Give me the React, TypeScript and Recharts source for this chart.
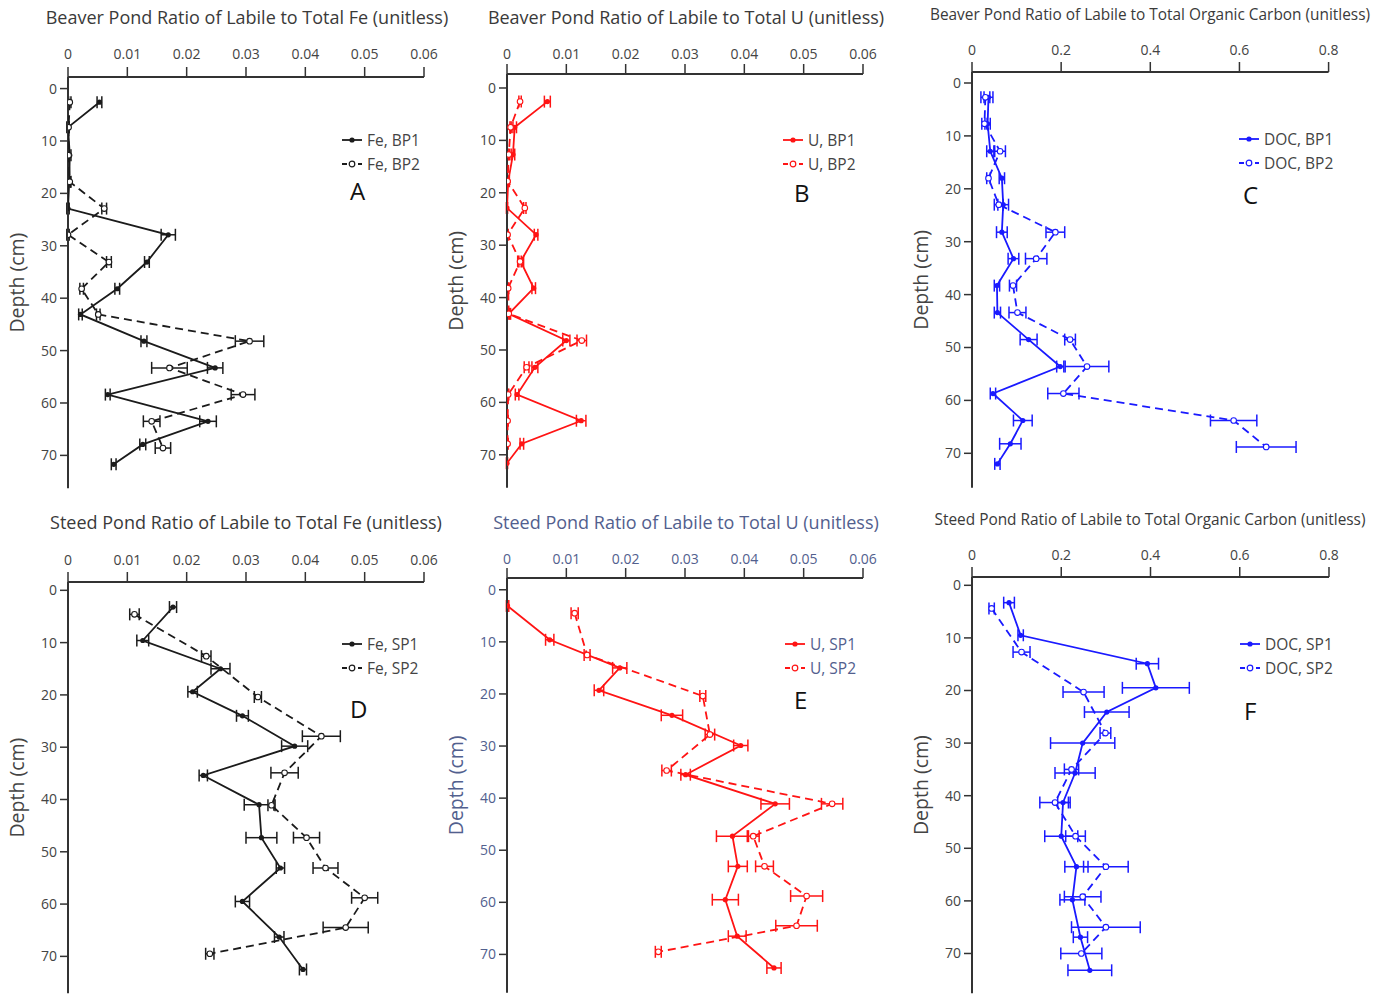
import React from "react";
import { ScatterChart, Scatter, XAxis, YAxis, ErrorBar, Label } from "recharts";

const FONT = '"Open Sans", "Noto Sans", sans-serif';

// ---- depth ticks / value ticks
const DEPTH_TICKS = [0, 10, 20, 30, 40, 50, 60, 70];
const RATIO_TICKS = [0, 0.01, 0.02, 0.03, 0.04, 0.05, 0.06];
const DOC_TICKS = [0, 0.2, 0.4, 0.6, 0.8];

// ---- A: Beaver Pond Fe
const feBP1Depth = [2.6, 7.4, 12.7, 17.8, 22.9, 27.9, 33.1, 38.2, 43.1, 48.2, 53.3, 58.4, 63.5, 67.9, 71.7];
const feBP1 = [0.0053, 0.0, 0.0003, 0.0002, 0.0, 0.0169, 0.0133, 0.0083, 0.0021, 0.0128, 0.0248, 0.0067, 0.0236, 0.0126, 0.0077];
const feBP1Err = [0.0004, 0.0002, 0.0002, 0.0002, 0.0002, 0.0012, 0.0004, 0.0004, 0.0003, 0.0005, 0.0013, 0.0004, 0.0014, 0.0005, 0.0004];
const feBP2Depth = [2.6, 7.4, 12.7, 17.8, 22.9, 27.9, 33.1, 38.2, 43.1, 48.2, 53.3, 58.4, 63.5, 68.6];
const feBP2 = [0.0003, 0.0001, 0.0001, 0.0003, 0.0061, 0.0, 0.0069, 0.0023, 0.0051, 0.0306, 0.0171, 0.0295, 0.0141, 0.016];
const feBP2Err = [0.0002, 0.0001, 0.0001, 0.0002, 0.0004, 0.0002, 0.0004, 0.0003, 0.0003, 0.0024, 0.003, 0.002, 0.0014, 0.0013];

// ---- B: Beaver Pond U
const uBP1Depth = [2.6, 7.5, 12.7, 17.8, 22.9, 28.0, 33.1, 38.2, 43.1, 48.2, 53.3, 58.5, 63.5, 67.9, 71.6];
const uBP1 = [0.0068, 0.0013, 0.001, 0.0002, 0.0, 0.0049, 0.0023, 0.0045, 0.0003, 0.01, 0.0047, 0.0017, 0.0125, 0.0025, 0.0];
const uBP1Err = [0.0005, 0.0003, 0.0003, 0.0002, 0.0001, 0.0003, 0.0005, 0.0003, 0.0003, 0.0006, 0.0005, 0.0003, 0.0008, 0.0003, 0.0001];
const uBP2Depth = [2.6, 7.5, 12.7, 17.8, 22.9, 28.0, 33.1, 38.2, 43.1, 48.2, 53.3, 58.5, 63.5, 67.9];
const uBP2 = [0.0022, 0.0006, 0.0003, 0.0001, 0.003, 0.0001, 0.0022, 0.0002, 0.0003, 0.0126, 0.0033, 0.0002, 0.0001, 0.0001];
const uBP2Err = [0.0002, 0.0001, 0.0001, 0.0001, 0.0002, 0.0001, 0.0002, 0.0001, 0.0001, 0.0008, 0.0004, 0.0001, 0.0001, 0.0001];

// ---- C: Beaver Pond DOC
const docBP1Depth = [2.7, 7.7, 12.9, 18.0, 23.0, 28.2, 33.2, 38.3, 43.4, 48.5, 53.6, 58.7, 63.8, 68.2, 72.0];
const docBP1 = [0.037, 0.035, 0.041, 0.067, 0.07, 0.067, 0.093, 0.056, 0.057, 0.127, 0.198, 0.047, 0.114, 0.086, 0.057];
const docBP1Err = [0.01, 0.006, 0.008, 0.006, 0.012, 0.012, 0.012, 0.006, 0.007, 0.019, 0.008, 0.006, 0.021, 0.024, 0.006];
const docBP2Depth = [2.7, 7.7, 12.9, 18.0, 23.0, 28.2, 33.2, 38.3, 43.4, 48.5, 53.6, 58.7, 63.8, 68.8];
const docBP2 = [0.03, 0.028, 0.063, 0.037, 0.06, 0.187, 0.144, 0.092, 0.102, 0.22, 0.258, 0.205, 0.587, 0.66];
const docBP2Err = [0.01, 0.006, 0.012, 0.004, 0.01, 0.021, 0.024, 0.008, 0.019, 0.012, 0.049, 0.035, 0.052, 0.067];

// ---- D: Steed Pond Fe
const feSP1Depth = [3.2, 9.6, 15.0, 19.4, 24.0, 29.8, 35.4, 41.0, 47.3, 53.1, 59.5, 66.3, 72.5];
const feSP1 = [0.0177, 0.0126, 0.0257, 0.021, 0.0294, 0.0382, 0.0228, 0.0322, 0.0326, 0.0358, 0.0294, 0.0356, 0.0396];
const feSP1Err = [0.0006, 0.001, 0.0016, 0.0008, 0.001, 0.0022, 0.0007, 0.0025, 0.0026, 0.0007, 0.0012, 0.0008, 0.0006];
const feSP2Depth = [4.6, 12.6, 20.4, 27.9, 34.9, 41.1, 47.3, 53.1, 58.8, 64.5, 69.5];
const feSP2 = [0.0112, 0.0233, 0.032, 0.0427, 0.0365, 0.0343, 0.0402, 0.0434, 0.05, 0.0468, 0.0239];
const feSP2Err = [0.0008, 0.0008, 0.0006, 0.0032, 0.0023, 0.0006, 0.0022, 0.0021, 0.0022, 0.0038, 0.0007];

// ---- E: Steed Pond U
const uSP1Depth = [3.1, 9.6, 15.0, 19.3, 24.1, 29.9, 35.5, 41.1, 47.3, 53.1, 59.5, 66.5, 72.6];
const uSP1 = [0.0001, 0.0072, 0.019, 0.0155, 0.0278, 0.0394, 0.0301, 0.0452, 0.038, 0.0389, 0.0368, 0.0388, 0.045];
const uSP1Err = [0.0002, 0.0007, 0.0012, 0.0008, 0.0018, 0.0012, 0.0008, 0.0024, 0.0027, 0.0016, 0.0022, 0.0015, 0.0012];
const uSP2Depth = [4.5, 12.5, 20.4, 27.8, 34.7, 41.1, 47.3, 53.1, 58.8, 64.5, 69.5];
const uSP2 = [0.0114, 0.0135, 0.033, 0.0342, 0.0269, 0.0548, 0.0415, 0.0434, 0.0505, 0.0488, 0.0255];
const uSP2Err = [0.0006, 0.0005, 0.0005, 0.0008, 0.0008, 0.0018, 0.001, 0.0015, 0.0027, 0.0035, 0.0005];

// ---- F: Steed Pond DOC
const docSP1Depth = [3.3, 9.5, 14.9, 19.5, 24.1, 30.0, 35.7, 41.3, 47.7, 53.5, 59.8, 66.9, 73.2];
const docSP1 = [0.083, 0.109, 0.393, 0.412, 0.302, 0.248, 0.231, 0.204, 0.2, 0.234, 0.225, 0.243, 0.264];
const docSP1Err = [0.012, 0.006, 0.025, 0.075, 0.05, 0.072, 0.045, 0.012, 0.037, 0.026, 0.028, 0.016, 0.049];
const docSP2Depth = [4.4, 12.7, 20.3, 28.1, 35.0, 41.3, 47.7, 53.5, 59.2, 65.0, 70.0];
const docSP2 = [0.044, 0.111, 0.25, 0.299, 0.223, 0.186, 0.232, 0.3, 0.248, 0.3, 0.245];
const docSP2Err = [0.006, 0.019, 0.046, 0.012, 0.016, 0.034, 0.022, 0.05, 0.041, 0.077, 0.046];

const rows = (depth: number[], value: number[], err: number[]) =>
  depth.map((d, i) => ({ depth: d, value: value[i], err: err[i] }));

const BLACK = "#1b1b1b";
const RED = "#ff1414";
const BLUE = "#1a1aff";
const GREY_TEXT = "#444";
const SLATE_TEXT = "#52608e";

interface PanelCfg {
  // plot area in page pixels
  x: number;
  y: number;
  w: number;
  h: number;
  yDomain: [number, number];
  xMax: number;
  xTicks: number[];
  tickGap: number;
  color: string;
  textColor: string;
  title: string;
  titleX: number;
  titleY: number;
  titleSize: number;
  names: [string, string];
  legendX: number;
  legendY: number;
  letter: string;
  letterX: number;
  letterY: number;
  s1: { depth: number; value: number; err: number }[];
  s2: { depth: number; value: number; err: number }[];
}

const ML = 70; // space left of plot inside the chart svg
const MT = 40; // space above plot

function LegendSample({ color, open }: { color: string; open: boolean }) {
  return (
    <svg width={22} height={10} style={{ marginRight: 4 }}>
      <line
        x1={1}
        y1={5}
        x2={21}
        y2={5}
        stroke={color}
        strokeWidth={1.8}
        strokeDasharray={open ? "5 3" : undefined}
      />
      {open ? (
        <circle cx={11} cy={5} r={2.8} fill="#fff" stroke={color} strokeWidth={1.2} />
      ) : (
        <circle cx={11} cy={5} r={2.6} fill={color} />
      )}
    </svg>
  );
}

function Panel({ cfg }: { cfg: PanelCfg }) {
  const c = cfg.color;
  const filled = (p: any) => <circle cx={p.cx} cy={p.cy} r={2.6} fill={c} />;
  const open = (p: any) => (
    <circle cx={p.cx} cy={p.cy} r={2.8} fill="#fff" stroke={c} strokeWidth={1.1} />
  );
  const axisLine = { stroke: "#333", strokeWidth: 2 };
  const tickLine = { stroke: "#333", strokeWidth: 1.5 };
  const tick = { fill: cfg.textColor, fontSize: 14, fontFamily: FONT };

  return (
    <>
      <div
        style={{
          position: "absolute",
          left: cfg.titleX,
          top: cfg.titleY - cfg.titleSize * 0.7,
          transform: "translateX(-50%)",
          whiteSpace: "nowrap",
          fontFamily: FONT,
          fontSize: cfg.titleSize,
          color: cfg.textColor === GREY_TEXT ? "#3a3a3a" : cfg.textColor,
        }}
      >
        {cfg.title}
      </div>
      <div style={{ position: "absolute", left: cfg.x - ML, top: cfg.y - MT }}>
        <ScatterChart
          width={cfg.w + ML + 15}
          height={cfg.h + MT + 2}
          margin={{ top: 10, right: 15, bottom: 2, left: 10 }}
        >
          <XAxis
            type="number"
            dataKey="value"
            orientation="top"
            height={30}
            domain={[0, cfg.xMax]}
            ticks={cfg.xTicks}
            interval={0}
            allowDataOverflow
            tickSize={10}
            tickMargin={cfg.tickGap}
            axisLine={axisLine}
            tickLine={tickLine}
            tick={tick}
            tickFormatter={(v: number) => String(v)}
          />
          <YAxis
            type="number"
            dataKey="depth"
            width={60}
            reversed
            domain={cfg.yDomain}
            ticks={DEPTH_TICKS}
            interval={0}
            allowDataOverflow
            tickSize={8}
            tickMargin={3}
            axisLine={axisLine}
            tickLine={tickLine}
            tick={tick}
          >
            <Label
              value="Depth (cm)"
              angle={-90}
              position="insideLeft"
              offset={9}
              style={{ textAnchor: "middle", fontSize: 19.5, fill: cfg.textColor, fontFamily: FONT }}
            />
          </YAxis>
          <Scatter
            name={cfg.names[0]}
            data={cfg.s1}
            fill={c}
            line={{ stroke: c, strokeWidth: 1.8 }}
            shape={filled}
            isAnimationActive={false}
          >
            <ErrorBar dataKey="err" direction="x" width={6} stroke={c} strokeWidth={1.5} />
          </Scatter>
          <Scatter
            name={cfg.names[1]}
            data={cfg.s2}
            fill={c}
            line={{ stroke: c, strokeWidth: 1.8, strokeDasharray: "8 5" }}
            shape={open}
            isAnimationActive={false}
          >
            <ErrorBar dataKey="err" direction="x" width={6} stroke={c} strokeWidth={1.5} />
          </Scatter>
        </ScatterChart>
      </div>
      <div
        style={{
          position: "absolute",
          left: cfg.legendX,
          top: cfg.legendY - 11,
          fontFamily: FONT,
          fontSize: 15.5,
          color: cfg.textColor,
          lineHeight: "24px",
        }}
      >
        {cfg.names.map((n, i) => (
          <div key={n} style={{ display: "flex", alignItems: "center", whiteSpace: "nowrap" }}>
            <LegendSample color={c} open={i === 1} />
            {n}
          </div>
        ))}
      </div>
      <div
        style={{
          position: "absolute",
          left: cfg.letterX,
          top: cfg.letterY - 17,
          fontFamily: FONT,
          fontSize: 24,
          color: "#111",
        }}
      >
        {cfg.letter}
      </div>
    </>
  );
}

const panels: PanelCfg[] = [
  {
    x: 68.3, y: 76.7, w: 356, h: 411.3, yDomain: [-2.21, 76.28], xMax: 0.06, xTicks: RATIO_TICKS, tickGap: 8,
    color: BLACK, textColor: GREY_TEXT,
    title: "Beaver Pond Ratio of Labile to Total Fe (unitless)", titleX: 247, titleY: 18, titleSize: 18,
    names: ["Fe, BP1", "Fe, BP2"], legendX: 341, legendY: 139, letter: "A", letterX: 350, letterY: 191,
    s1: rows(feBP1Depth, feBP1, feBP1Err), s2: rows(feBP2Depth, feBP2, feBP2Err),
  },
  {
    x: 507.3, y: 74.3, w: 356, h: 413.7, yDomain: [-2.67, 76.28], xMax: 0.06, xTicks: RATIO_TICKS, tickGap: 5,
    color: RED, textColor: GREY_TEXT,
    title: "Beaver Pond Ratio of Labile to Total U (unitless)", titleX: 686, titleY: 18, titleSize: 18,
    names: ["U, BP1", "U, BP2"], legendX: 782, legendY: 139, letter: "B", letterX: 794, letterY: 193,
    s1: rows(uBP1Depth, uBP1, uBP1Err), s2: rows(uBP2Depth, uBP2, uBP2Err),
  },
  {
    x: 971.7, y: 72.3, w: 356.6, h: 415.7, yDomain: [-2.08, 76.5], xMax: 0.8, xTicks: DOC_TICKS, tickGap: 7,
    color: BLUE, textColor: GREY_TEXT,
    title: "Beaver Pond Ratio of Labile to Total Organic Carbon (unitless)", titleX: 1150, titleY: 15, titleSize: 15.4,
    names: ["DOC, BP1", "DOC, BP2"], legendX: 1238, legendY: 138, letter: "C", letterX: 1243, letterY: 195,
    s1: rows(docBP1Depth, docBP1, docBP1Err), s2: rows(docBP2Depth, docBP2, docBP2Err),
  },
  {
    x: 68.3, y: 581.7, w: 356, h: 411.3, yDomain: [-1.59, 77.06], xMax: 0.06, xTicks: RATIO_TICKS, tickGap: 7,
    color: BLACK, textColor: GREY_TEXT,
    title: "Steed Pond Ratio of Labile to Total Fe (unitless)", titleX: 246, titleY: 523, titleSize: 18,
    names: ["Fe, SP1", "Fe, SP2"], legendX: 341, legendY: 643, letter: "D", letterX: 350, letterY: 709,
    s1: rows(feSP1Depth, feSP1, feSP1Err), s2: rows(feSP2Depth, feSP2, feSP2Err),
  },
  {
    x: 507.3, y: 578.3, w: 356, h: 414.7, yDomain: [-2.26, 77.35], xMax: 0.06, xTicks: RATIO_TICKS, tickGap: 4,
    color: RED, textColor: SLATE_TEXT,
    title: "Steed Pond Ratio of Labile to Total U (unitless)", titleX: 686, titleY: 523, titleSize: 18,
    names: ["U, SP1", "U, SP2"], legendX: 784, legendY: 643, letter: "E", letterX: 794, letterY: 700,
    s1: rows(uSP1Depth, uSP1, uSP1Err), s2: rows(uSP2Depth, uSP2, uSP2Err),
  },
  {
    x: 972.3, y: 576.7, w: 357, h: 416.3, yDomain: [-1.58, 77.57], xMax: 0.8, xTicks: DOC_TICKS, tickGap: 7,
    color: BLUE, textColor: GREY_TEXT,
    title: "Steed Pond Ratio of Labile to Total Organic Carbon (unitless)", titleX: 1150, titleY: 520, titleSize: 15.4,
    names: ["DOC, SP1", "DOC, SP2"], legendX: 1239, legendY: 643, letter: "F", letterX: 1244, letterY: 711,
    s1: rows(docSP1Depth, docSP1, docSP1Err), s2: rows(docSP2Depth, docSP2, docSP2Err),
  },
];

export default function App() {
  return (
    <div
      style={{
        position: "absolute",
        left: 0,
        top: 0,
        width: 1381,
        height: 995,
        background: "#fff",
        overflow: "hidden",
      }}
    >
      {panels.map((p) => (
        <Panel key={p.letter} cfg={p} />
      ))}
    </div>
  );
}
